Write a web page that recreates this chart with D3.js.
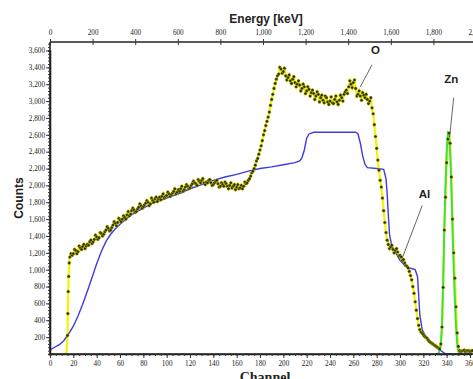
<!DOCTYPE html>
<html>
<head>
<meta charset="utf-8">
<script src="https://cdn.jsdelivr.net/npm/d3@7"></script>
<style>
  html, body { margin: 0; padding: 0; background: #fff; }
  svg { display: block; }
</style>
</head>
<body>
<div id="root"></div>
<script>
// measured spectrum, counts per channel (index = channel 0..362)
const measCounts = [
  0, 0, 0, 0, 0, 0, 0, 0, 0, 0,
  0, 0, 0, 0, 0, 220, 920, 1150, 1190, 1170,
  1190, 1240, 1230, 1190, 1215, 1280, 1260, 1240, 1275, 1300,
  1250, 1280, 1300, 1290, 1330, 1350, 1310, 1330, 1360, 1410,
  1390, 1360, 1380, 1440, 1430, 1400, 1420, 1450, 1470, 1510,
  1490, 1460, 1470, 1500, 1530, 1570, 1550, 1520, 1560, 1610,
  1590, 1570, 1600, 1640, 1620, 1600, 1650, 1690, 1640, 1660,
  1700, 1730, 1710, 1680, 1690, 1720, 1740, 1780, 1760, 1730,
  1750, 1770, 1790, 1820, 1800, 1760, 1780, 1850, 1820, 1800,
  1840, 1860, 1810, 1840, 1860, 1830, 1870, 1900, 1850, 1870,
  1880, 1920, 1900, 1870, 1890, 1910, 1930, 1960, 1900, 1920,
  1950, 1930, 1960, 1990, 1930, 1950, 1980, 2010, 1990, 1960,
  1970, 2000, 2020, 2050, 2030, 2020, 2000, 2070, 2050, 2030,
  2060, 2080, 2030, 2010, 2040, 2030, 2060, 2070, 2030, 2000,
  2010, 2030, 2050, 2060, 2020, 1980, 1990, 2030, 2010, 1990,
  2040, 2020, 1990, 1960, 2000, 2030, 1970, 1990, 2010, 1950,
  1980, 2010, 1960, 1970, 2000, 1960, 1990, 2040, 2020, 2030,
  2060, 2080, 2110, 2150, 2170, 2200, 2240, 2290, 2320, 2370,
  2420, 2470, 2530, 2600, 2650, 2710, 2760, 2810, 2870, 2950,
  3020, 3080, 3150, 3210, 3260, 3300, 3320, 3400, 3380, 3330,
  3350, 3390, 3300, 3250, 3280, 3310, 3240, 3210, 3260, 3290,
  3220, 3170, 3200, 3240, 3190, 3120, 3150, 3200, 3170, 3090,
  3120, 3170, 3140, 3060, 3100, 3130, 3090, 3020, 3060, 3110,
  3080, 2990, 3040, 3070, 3010, 2980, 3060, 3040, 2990, 2960,
  3000, 3050, 2980, 2970, 3020, 3060, 2990, 2960, 3010, 3070,
  3040, 3000, 3080, 3110, 3130, 3090, 3170, 3240, 3200, 3160,
  3220, 3250, 3150, 3060, 3080, 3120, 3060, 3010, 3100, 3070,
  3040, 3080, 3020, 2970, 3000, 3040, 2920, 2850, 2720, 2580,
  2440, 2300, 2180, 2060, 1980, 1850, 1700, 1560, 1440, 1350,
  1300, 1250, 1270, 1290, 1240, 1200, 1230, 1250, 1210, 1160,
  1170, 1150, 1110, 1120, 1080, 1050, 1040, 1020, 980, 930,
  880, 800, 720, 620, 520, 420, 340, 290, 260, 250,
  230, 210, 200, 190, 170, 150, 140, 130, 120, 110,
  100, 90, 80, 70, 60, 120, 320, 790, 1470, 1860,
  2270, 2550, 2620, 2500, 2100, 1600, 1200, 900, 560, 250,
  90, 40, 30, 35, 40, 45, 30, 40, 35, 40,
  30, 35, 40];
// extra readings on the steep edge near channel 15
const riseChannel = [15.3, 15.6, 16.5];
const riseCounts = [480, 740, 1080];

// simulated total (blue)
const simChannel = [0, 4, 8, 12, 16, 20, 24, 28, 32, 36, 40, 44, 48, 52, 56, 60, 66, 72, 80, 88,
  96, 104, 112, 120, 130, 140, 150, 160, 170, 180, 190, 200, 210, 214, 216, 218, 220, 222, 226, 240,
  262, 264, 266, 268, 270, 272, 280, 286, 288, 289, 290, 291, 293, 296, 300, 304, 308, 313, 315, 316,
  317, 319, 322, 326, 330, 334, 338, 340, 362];
const simCounts = [50, 80, 110, 160, 240, 330, 450, 590, 745, 905, 1070, 1215, 1335, 1420, 1485, 1540, 1610, 1670, 1730, 1790,
  1830, 1870, 1910, 1960, 2010, 2060, 2100, 2130, 2170, 2200, 2220, 2245, 2270, 2290, 2330, 2420, 2560, 2610, 2630, 2630,
  2630, 2610, 2500, 2350, 2250, 2210, 2200, 2190, 2080, 1900, 1650, 1420, 1280, 1210, 1110, 1050, 1020, 1000, 920, 700,
  460, 290, 210, 150, 100, 50, 10, 0, 0];

// simulated Zn peak (green)
const znChannel = [330, 333, 335, 336, 337, 338, 339, 340, 341, 342, 343, 344, 345, 346, 347, 348, 349, 350, 352, 362];
const znCounts = [0, 0, 100, 350, 850, 1500, 2000, 2400, 2620, 2600, 2400, 2000, 1500, 1050, 650, 330, 120, 30, 0, 0];

const yTicks = d3.range(200, 3601, 200);
const channelTicks = d3.range(0, 361, 20);
const energyTicks = d3.range(0, 2001, 200);

const labels = [
  { text: "O", ch: 279, counts: 3560, from: [276, 3430], to: [266, 3170] },
  { text: "Zn", ch: 344, counts: 3210, from: [346, 3040], to: [342.5, 2570] },
  { text: "Al", ch: 321, counts: 1850, from: [319, 1760], to: [302, 1140] },
];

const main = () => {
  const W = 473, H = 379;
  const svg = d3.select("#root").append("svg").attr("width", W).attr("height", H)
    .style("font-family", "'Liberation Serif', serif");

  const x = d3.scaleLinear().domain([0, 360]).range([50, 470]);
  const xE = d3.scaleLinear().domain([0, 2000]).range([50, 476]);
  const y = d3.scaleLinear().domain([0, 3600]).range([354, 50.5]);

  const meas = measCounts.map((v, c) => ({ c, v }))
    .concat(riseChannel.map((c, i) => ({ c, v: riseCounts[i] })))
    .sort((a, b) => a.c - b.c);
  const sim = simChannel.map((c, i) => ({ c, v: simCounts[i] }));
  const zn = znChannel.map((c, i) => ({ c, v: znCounts[i] }));

  const line = d3.line().x(d => x(d.c)).y(d => y(d.v));

  svg.append("path").datum(meas).attr("d", line)
    .attr("fill", "none").attr("stroke", "#f4f400").attr("stroke-width", 2.2);
  svg.append("path").datum(zn).attr("d", line)
    .attr("fill", "none").attr("stroke", "#3ee03e").attr("stroke-width", 2);
  svg.append("path").datum(sim).attr("d", line)
    .attr("fill", "none").attr("stroke", "#3c3ce0").attr("stroke-width", 1.4);

  svg.append("g").selectAll("circle")
    .data(meas.filter(d => d.c >= 15))
    .join("circle")
    .attr("cx", d => x(d.c))
    .attr("cy", d => y(d.v))
    .attr("r", 1.6)
    .attr("fill", "#2e2e0c")
    .attr("stroke", "#d8d800")
    .attr("stroke-width", 0.4);

  // axes
  const left = svg.append("g").attr("transform", "translate(50,0)")
    .call(d3.axisLeft(y).tickValues(yTicks).tickSize(4).tickFormat(d3.format(",")));
  left.append("g").call(d3.axisLeft(y).tickValues(d3.range(0, 3701, 40)).tickSize(2).tickFormat(""));
  left.select(".domain").attr("d", "M0,354V42");

  const bottom = svg.append("g").attr("transform", "translate(0,354)")
    .call(d3.axisBottom(x).tickValues(channelTicks).tickSize(4));
  bottom.append("g").call(d3.axisBottom(x).tickValues(d3.range(0, 364, 5)).tickSize(2).tickFormat(""));
  bottom.select(".domain").attr("d", "M50,0H473");

  const top = svg.append("g").attr("transform", "translate(0,42)")
    .call(d3.axisTop(xE).tickValues(energyTicks).tickSize(4));
  top.selectAll(".tick line").attr("y2", 3).attr("y1", -3);
  top.select(".domain").attr("d", "M50,0H473");

  svg.selectAll(".domain").attr("stroke", "#222").attr("stroke-width", 1.6);
  svg.selectAll(".tick line").attr("stroke", "#333");
  svg.selectAll(".tick text").attr("font-size", 7.2).attr("fill", "#222")
    .attr("font-family", "'Liberation Serif', serif");
  left.selectAll(".tick text").attr("x", -5);

  // titles
  svg.append("text").attr("x", 266).attr("y", 23).attr("text-anchor", "middle")
    .attr("font-family", "'Liberation Sans', Arial, sans-serif").attr("font-weight", "bold")
    .attr("font-size", 12).attr("fill", "#222").text("Energy [keV]");
  svg.append("text").attr("transform", "translate(23,198) rotate(-90)").attr("text-anchor", "middle")
    .attr("font-family", "'Liberation Sans', Arial, sans-serif").attr("font-weight", "bold")
    .attr("font-size", 12).attr("fill", "#222").text("Counts");
  svg.append("text").attr("x", 265).attr("y", 382).attr("text-anchor", "middle")
    .attr("font-weight", "bold").attr("font-size", 14).attr("fill", "#222").text("Channel");

  // peak labels
  const ann = svg.append("g");
  labels.forEach(l => {
    ann.append("line")
      .attr("x1", x(l.from[0])).attr("y1", y(l.from[1]))
      .attr("x2", x(l.to[0])).attr("y2", y(l.to[1]))
      .attr("stroke", "#555").attr("stroke-width", 0.9);
    ann.append("text").attr("x", x(l.ch)).attr("y", y(l.counts))
      .attr("text-anchor", "middle")
      .attr("font-family", "'Liberation Sans', Arial, sans-serif").attr("font-weight", "bold")
      .attr("font-size", 11.5).attr("fill", "#222").text(l.text);
  });
};

main();
</script>
</body>
</html>
